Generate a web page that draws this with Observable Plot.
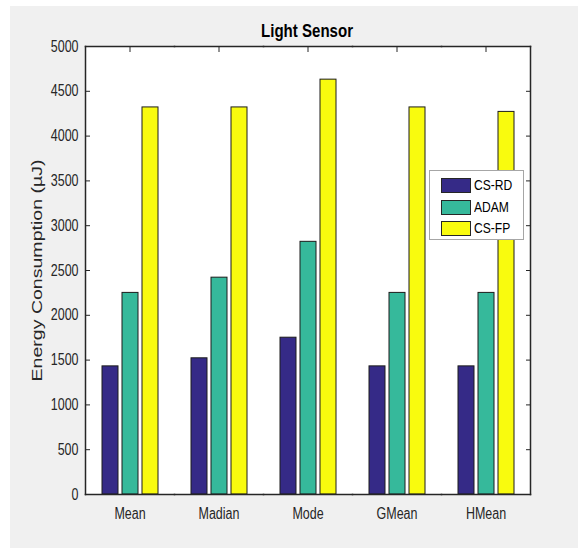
<!DOCTYPE html>
<html>
<head>
<meta charset="utf-8">
<script src="https://cdn.jsdelivr.net/npm/d3@7"></script>
<script src="https://cdn.jsdelivr.net/npm/@observablehq/plot@0.6"></script>
<style>
  body { margin: 0; background: #ffffff; }
  #fig {
    position: absolute; left: 10px; top: 6px; width: 568px; height: 542px;
    background: #f0f0f0;
    font-family: "Liberation Sans", Arial, sans-serif;
    color: #262626;
  }
  #axesbg { position: absolute; left: 75px; top: 40px; width: 445px; height: 448px; background: #ffffff; }
  #title {
    position: absolute; left: 75px; width: 445px; top: 15px; line-height: 20px;
    text-align: center; font-weight: bold; font-size: 18px; color: #000;
  }
  #title span { display: inline-block; transform-origin: 50% 50%; }
  #chart { position: absolute; left: 0; top: 0; }
  #legend {
    position: absolute; left: 419px; top: 164px; width: 93px; height: 68px;
    background: #ffffff; border: 1px solid #a6a6a6;
  }
  .row { position: absolute; left: 11px; height: 16px; }
  .sw { position: absolute; left: 0; top: 0; width: 28px; height: 13px; border: 1px solid #262626; }
  .lab {
    position: absolute; left: 33px; top: -3px; font-size: 15.5px; line-height: 20px; color: #000;
    white-space: nowrap; transform: scaleX(0.78); transform-origin: 0 50%;
  }
</style>
</head>
<body>
<div id="fig">
  <div id="axesbg"></div>
  <div id="chart"></div>
  <div id="title"><span>Light Sensor</span></div>
  <div id="legend"></div>
</div>
<script>
// Energy consumption per estimator, one array per method
const categories = ["Mean", "Madian", "Mode", "GMean", "HMean"];
const series = ["CS-RD", "ADAM", "CS-FP"];
const csRd = [1430, 1520, 1750, 1430, 1430];
const adam = [2250, 2420, 2820, 2250, 2250];
const csFp = [4320, 4320, 4630, 4320, 4270];
const colors = ["#352a87", "#36b99b", "#f9fb0e"];
const yTicks = [0, 500, 1000, 1500, 2000, 2500, 3000, 3500, 4000, 4500, 5000];
const yLabel = "Energy Consumption (\u00b5J)";

const valuesBySeries = [csRd, adam, csFp];
const rows = categories.flatMap((category, i) =>
  series.map((s, j) => ({category, series: s, value: valuesBySeries[j][i]}))
);

const axisColor = "#262626";
const blank = () => "";

const chart = Plot.plot({
  width: 568,
  height: 542,
  marginLeft: 75,
  marginTop: 40,
  marginRight: 48,
  marginBottom: 54,
  style: {
    background: "transparent",
    fontFamily: '"Liberation Sans", Arial, sans-serif',
    fontSize: "16px",
    color: axisColor,
    overflow: "visible"
  },
  fx: {domain: categories, padding: 0, axis: null, label: null},
  x: {domain: series, paddingInner: 0.2, paddingOuter: 0.825, axis: null},
  y: {domain: [0, 5000], axis: null},
  color: {domain: series, range: colors},
  marks: [
    Plot.barY(rows, {
      fx: "category", x: "series", y: "value",
      fill: "series", stroke: "#1c1c1c", strokeWidth: 1
    }),
    Plot.axisY(yTicks, {
      anchor: "left", tickSize: -5, tickPadding: 12, tickFormat: "d",
      label: yLabel, labelAnchor: "center", labelArrow: "none", labelOffset: 54
    }),
    Plot.axisY(yTicks, {anchor: "right", tickSize: -5, tickFormat: blank, label: null}),
    Plot.axisFx({anchor: "top", tickSize: -5, tickFormat: blank, label: null}),
    Plot.axisFx({anchor: "bottom", tickSize: 0, tickPadding: 13, label: null}),
    Plot.frame({anchor: "left", facetAnchor: "left", stroke: axisColor, strokeWidth: 1.5}),
    Plot.frame({anchor: "right", facetAnchor: "right", stroke: axisColor, strokeWidth: 1.5}),
    Plot.frame({anchor: "top", stroke: axisColor, strokeWidth: 1.5}),
    Plot.frame({anchor: "bottom", stroke: axisColor, strokeWidth: 1.5})
  ]
});
document.getElementById("chart").appendChild(chart);

// tick labels use a condensed face: squeeze each label horizontally
chart.querySelectorAll('g[aria-label$="tick label"] text').forEach((t) => {
  const w = t.getComputedTextLength();
  if (w > 0) {
    t.setAttribute("textLength", (w * 0.78).toFixed(2));
    t.setAttribute("lengthAdjust", "spacingAndGlyphs");
  }
});

// vertical axis title, stretched along its length
const yTitle = chart.querySelector('g[aria-label="y-axis label"] text');
if (yTitle) {
  yTitle.setAttribute("font-size", "14.5");
  yTitle.setAttribute("textLength", "222");
  yTitle.setAttribute("lengthAdjust", "spacingAndGlyphs");
}

// title condensed to the same proportions
const titleSpan = document.querySelector("#title span");
const tw = titleSpan.getBoundingClientRect().width;
if (tw > 0) titleSpan.style.transform = `scaleX(${(92 / tw).toFixed(3)})`;

// legend box inside the axes
const legend = document.getElementById("legend");
series.forEach((s, i) => {
  const row = document.createElement("div");
  row.className = "row";
  row.style.top = (7 + i * 21.5) + "px";
  const sw = document.createElement("div");
  sw.className = "sw";
  sw.style.background = colors[i];
  const lab = document.createElement("div");
  lab.className = "lab";
  lab.textContent = s;
  row.appendChild(sw);
  row.appendChild(lab);
  legend.appendChild(row);
});
</script>
</body>
</html>
